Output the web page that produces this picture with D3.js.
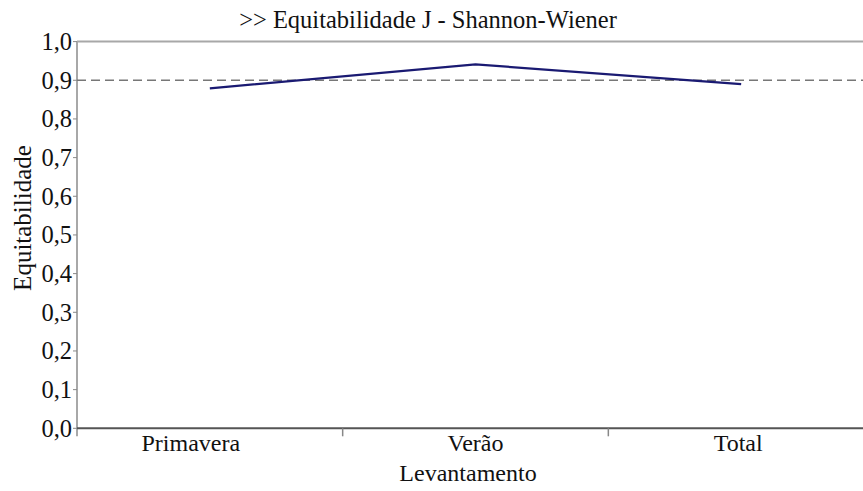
<!DOCTYPE html>
<html><head><meta charset="utf-8">
<script src="https://cdn.jsdelivr.net/npm/d3@7/dist/d3.min.js"></script>
<style>body{margin:0;background:#fff}svg{display:block}</style>
</head><body><svg id="c" width="863" height="491"></svg>
<script>
const categories = ["Primavera", "Verão", "Total"];
const values = [0.879, 0.941, 0.890];
const yTicks = [0,0.1,0.2,0.3,0.4,0.5,0.6,0.7,0.8,0.9,1.0];
const refValue = 0.9;
const title = ">> Equitabilidade J - Shannon-Wiener";
const xTitle = "Levantamento";
const yTitle = "Equitabilidade";

const FONT = "Liberation Serif";
const svg = d3.select("#c");
const mLeft = 77, mRight = 874, mTop = 41.6, mBottom = 428.3;
const x = d3.scaleBand().domain(categories).range([mLeft, mRight]);
const y = d3.scaleLinear().domain([0,1]).range([mBottom, mTop]);
const fmt = d => d.toFixed(1).replace(".", ",");

// top border
svg.append("line").attr("x1", mLeft).attr("x2", 863).attr("y1", y(1)).attr("y2", y(1))
  .attr("stroke", "#a8a8a8").attr("stroke-width", 2);
// left axis
svg.append("line").attr("x1", mLeft).attr("x2", mLeft).attr("y1", y(1)).attr("y2", mBottom + 8)
  .attr("stroke", "#a8a8a8").attr("stroke-width", 2);
// y ticks
const yAxis = svg.append("g");
yAxis.selectAll("line").data(yTicks).join("line")
  .attr("x1", mLeft - 4).attr("x2", mLeft).attr("y1", d => y(d)).attr("y2", d => y(d))
  .attr("stroke", "#888").attr("stroke-width", 1);
yAxis.selectAll("text").data(yTicks).join("text")
  .attr("x", mLeft - 5).attr("y", d => y(d)).attr("dy", "0.34em")
  .attr("font-family", FONT).attr("fill", "#111")
  .attr("text-anchor", "end").attr("font-size", 24.5).text(fmt);

// reference dashed line
svg.append("line").attr("x1", mLeft).attr("x2", 863).attr("y1", y(refValue)).attr("y2", y(refValue))
  .attr("stroke", "#777").attr("stroke-width", 1.3).attr("stroke-dasharray", "9,5");

// x axis
svg.append("line").attr("x1", mLeft).attr("x2", 863).attr("y1", mBottom).attr("y2", mBottom)
  .attr("stroke", "#555").attr("stroke-width", 2);
const bounds = categories.slice(1).map(c => x(c));
svg.selectAll(".xt").data(bounds).join("line").attr("class", "xt")
  .attr("x1", d => d).attr("x2", d => d).attr("y1", mBottom).attr("y2", mBottom + 8)
  .attr("stroke", "#888").attr("stroke-width", 1.5);
const labelShift = [-19, 0, -3];
svg.selectAll(".xl").data(categories).join("text").attr("class", "xl")
  .attr("x", (d, i) => x(d) + x.bandwidth() / 2 + labelShift[i]).attr("y", mBottom + 23)
  .attr("font-family", FONT).attr("fill", "#111")
  .attr("text-anchor", "middle").attr("font-size", 24).text(d => d);

// line
const line = d3.line().x((d, i) => x(categories[i]) + x.bandwidth() / 2).y(d => y(d));
svg.append("path").datum(values).attr("d", line).attr("fill", "none")
  .attr("stroke", "#1a1a72").attr("stroke-width", 2.2);

// titles
svg.append("text").attr("x", 428).attr("y", 28).attr("text-anchor", "middle")
  .attr("font-family", FONT).attr("fill", "#111").attr("font-size", 24.5).text(title);
svg.append("text").attr("x", 468).attr("y", 481).attr("text-anchor", "middle")
  .attr("font-family", FONT).attr("fill", "#111").attr("font-size", 24).text(xTitle);
svg.append("text").attr("transform", "translate(31,218) rotate(-90)")
  .attr("font-family", FONT).attr("fill", "#111")
  .attr("text-anchor", "middle").attr("font-size", 25).text(yTitle);
</script></body></html>
